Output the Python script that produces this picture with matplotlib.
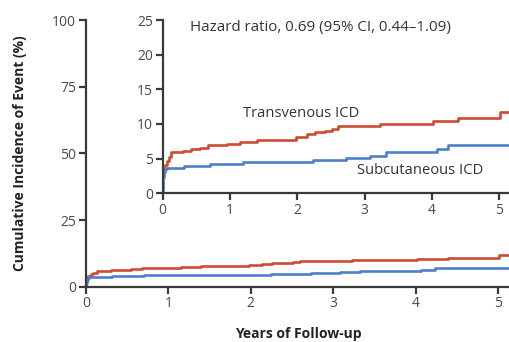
"""Cumulative incidence: transvenous vs subcutaneous ICD, with zoomed inset."""
import matplotlib
matplotlib.use("Agg")
import matplotlib.pyplot as plt

# cumulative incidence (%) by year of follow-up, step changes
tv_years = [0, 0.03, 0.06, 0.09, 0.13, 0.30, 0.42, 0.55, 0.68, 0.95, 1.15, 1.40, 1.98,
            2.14, 2.26, 2.41, 2.51, 2.60, 3.23, 4.02, 4.39, 5.01, 5.25]
tv_pct = [3.5, 4.1, 4.7, 5.3, 5.9, 6.1, 6.4, 6.6, 6.9, 7.1, 7.35, 7.7, 8.1,
          8.6, 8.8, 9.05, 9.3, 9.7, 9.95, 10.4, 10.9, 11.8, 11.8]
sc_years = [0, 0.005, 0.01, 0.02, 0.04, 0.07, 0.31, 0.70, 1.20, 2.24, 2.73, 3.08, 3.32,
            4.07, 4.24, 5.25]
sc_pct = [0, 1.5, 2.4, 3.1, 3.5, 3.7, 3.9, 4.2, 4.5, 4.8, 5.1, 5.4, 5.9,
          6.4, 7.0, 7.0]

main_yticks = [0, 25, 50, 75, 100]
inset_yticks = [0, 5, 10, 15, 20, 25]
xticks = [0, 1, 2, 3, 4, 5]

ROJO = "#cd4b35"
AZUL = "#4d80c8"
EJE = "#3a3a3a"
TXT = "#4a4a4a"

plt.rcParams["font.family"] = ["Open Sans", "DejaVu Sans"]

fig = plt.figure(figsize=(5.1, 3.42), dpi=100)


def estilo(ax, yticks):
    for s in ("top", "right"):
        ax.spines[s].set_visible(False)
    for s in ("left", "bottom"):
        ax.spines[s].set_color(EJE)
        ax.spines[s].set_linewidth(1.6)
    ax.set_xticks(xticks)
    ax.set_yticks(yticks)
    ax.tick_params(colors=EJE, width=1.6, length=5, labelsize=10, labelcolor=TXT, pad=2)
    ax.patch.set_alpha(0)


ax = fig.add_axes([86 / 510, 55.3 / 342, 424 / 510, 266.7 / 342])
ax.step(tv_years, tv_pct, where="post", color=ROJO, lw=1.9)
ax.step(sc_years, sc_pct, where="post", color=AZUL, lw=1.9)
ax.set_xlim(0, 424 / 82.4)
ax.set_ylim(0, 100)
estilo(ax, main_yticks)
ax.set_xlabel("Years of Follow-up", fontsize=10, fontweight="bold", color="#222222", labelpad=11.5)
ax.set_ylabel("Cumulative Incidence of Event (%)", fontsize=10, fontweight="bold",
              color="#222222", labelpad=18)

ins = fig.add_axes([162.7 / 510, 148.7 / 342, 347.3 / 510, 173.3 / 342])
ins.step(tv_years, tv_pct, where="post", color=ROJO, lw=1.9)
ins.step(sc_years, sc_pct, where="post", color=AZUL, lw=1.9)
ins.set_xlim(0, 347.3 / 67.3)
ins.set_ylim(0, 25)
estilo(ins, inset_yticks)

ins.text(0.40, 23.9, "Hazard ratio, 0.69 (95% CI, 0.44\u20131.09)", fontsize=10.9, color="#333333",
         va="center", ha="left")
ins.text(1.19, 11.5, "Transvenous ICD", fontsize=10.6, color="#333333", va="center", ha="left")
ins.text(2.88, 3.3, "Subcutaneous ICD", fontsize=10.6, color="#333333", va="center", ha="left")

fig.savefig("out.png", dpi=100)
